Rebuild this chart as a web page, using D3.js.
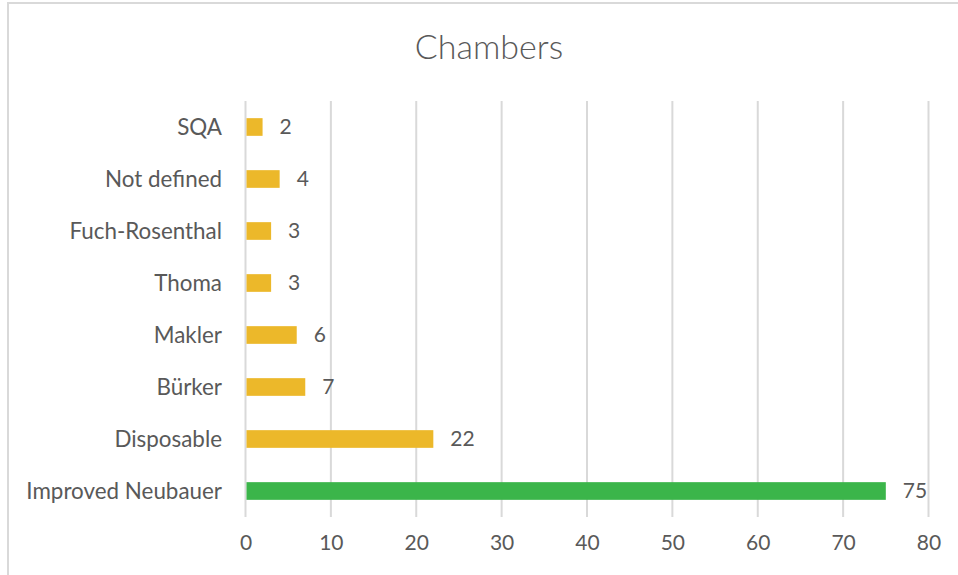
<!DOCTYPE html>
<html>
<head>
<meta charset="utf-8">
<script src="https://cdn.jsdelivr.net/npm/d3@7"></script>
<style>
  html, body { margin: 0; padding: 0; background: #fff; }
  svg { display: block; }
  text { font-family: Lato, "Open Sans", sans-serif; fill: #595959; }
</style>
</head>
<body>
<svg id="chart" width="958" height="575"></svg>
<script>
const title = "Chambers";
const categories = ["SQA", "Not defined", "Fuch-Rosenthal", "Thoma", "Makler", "Bürker", "Disposable", "Improved Neubauer"];
const values = [2, 4, 3, 3, 6, 7, 22, 75];
const barColors = ["#ECB82A", "#ECB82A", "#ECB82A", "#ECB82A", "#ECB82A", "#ECB82A", "#ECB82A", "#3BB54A"];
const tickValues = [0, 10, 20, 30, 40, 50, 60, 70, 80];

const svg = d3.select("#chart");

// chart border (cropped at right/bottom)
svg.append("rect")
  .attr("x", 8).attr("y", 3)
  .attr("width", 1000).attr("height", 600)
  .attr("fill", "#fff")
  .attr("stroke", "#D9D9D9").attr("stroke-width", 2);

const x = d3.scaleLinear().domain([0, 80]).range([245.5, 928.5]);
const y = d3.scaleBand().domain(categories).range([101, 517]).paddingInner(0.66).paddingOuter(0.33);

// gridlines
svg.append("g")
  .selectAll("line")
  .data(tickValues)
  .join("line")
  .attr("x1", d => x(d)).attr("x2", d => x(d))
  .attr("y1", 101).attr("y2", 517)
  .attr("stroke", "#D9D9D9").attr("stroke-width", 2);

// bars
svg.append("g")
  .selectAll("rect")
  .data(categories)
  .join("rect")
  .attr("x", x(0) + 1)
  .attr("y", d => y(d))
  .attr("width", (d, i) => x(values[i]) - x(0) - 1)
  .attr("height", y.bandwidth())
  .attr("fill", (d, i) => barColors[i]);

// data labels
svg.append("g")
  .selectAll("text")
  .data(categories)
  .join("text")
  .attr("x", (d, i) => x(values[i]) + 17)
  .attr("y", d => y(d) + y.bandwidth() / 2)
  .attr("dy", "0.35em")
  .attr("font-size", 21)
  .text((d, i) => values[i]);

// category labels
svg.append("g")
  .selectAll("text")
  .data(categories)
  .join("text")
  .attr("x", 222)
  .attr("y", d => y(d) + y.bandwidth() / 2)
  .attr("dy", "0.35em")
  .attr("text-anchor", "end")
  .attr("font-size", 22.4)
  .text(d => d);

// x tick labels
const xAxis = d3.axisBottom(x).tickValues(tickValues).tickSize(0).tickPadding(0);
const gx = svg.append("g").attr("transform", "translate(0,535)").call(xAxis);
gx.select(".domain").remove();
gx.selectAll("text")
  .attr("font-size", 21)
  .attr("font-family", "Lato, 'Open Sans', sans-serif")
  .attr("fill", "#595959");

// title
svg.append("text")
  .attr("x", 489).attr("y", 47)
  .attr("dy", "0.35em")
  .attr("text-anchor", "middle")
  .attr("font-size", 34)
  .attr("font-weight", 300)
  .text(title);
</script>
</body>
</html>
